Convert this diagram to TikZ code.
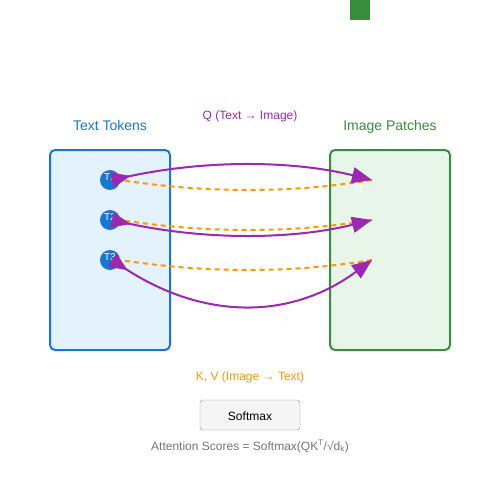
\documentclass[tikz,border=0pt]{standalone}
\usepackage{fontspec}
\setmainfont{Liberation Sans}
\usetikzlibrary{arrows.meta,calc}
\definecolor{tokblue}{HTML}{1976D2}
\definecolor{tokfill}{HTML}{E3F2FD}
\definecolor{patgreen}{HTML}{388E3C}
\definecolor{patfill}{HTML}{E8F5E9}
\definecolor{qpurple}{HTML}{9C27B0}
\definecolor{kvorange}{HTML}{FF9800}
\definecolor{smgray}{HTML}{757575}
\tikzset{
  token/.style={circle,fill=tokblue,minimum size=20pt,inner sep=0pt},
  toklabel/.style={anchor=base,text=white,font=\fontsize{10}{12}\selectfont},
  qarrow/.style={qpurple,line width=2pt,{Triangle[reversed,length=19pt,width=15pt]}-{Triangle[length=20pt,width=16pt]}},
  kvline/.style={kvorange,line width=2pt,dash pattern=on 5pt off 4pt},
  title/.style={anchor=base,font=\fontsize{14}{17}\selectfont},
  caption/.style={anchor=base,font=\fontsize{12}{14}\selectfont}
}
% quadratic curve from #2 over #3 to #4
\def\qcurve[#1](#2)(#3)(#4){\draw[#1] (#2) .. controls ($(#2)!0.6667!(#3)$) and ($(#4)!0.6667!(#3)$) .. (#4);}

\begin{document}
\begin{tikzpicture}[x=1pt,y=-1pt]
				%%%%% START %%%%%
				\def\lx{110}
				\def\rx{372}
				\def\mx{250}
				\useasboundingbox (0,0) rectangle (500,500);

				\fill[patgreen] (350,0) rectangle (370,20);

				\node[title,text=tokblue] (texttitle) at (110,130) {Text Tokens};
				\node[title,text=patgreen] (imagetitle) at (390,130) {Image Patches};
				\node[caption,text=qpurple] (qlabel) at (\mx,120) {Q (Text → Image)};

				\draw[tokblue,fill=tokfill,line width=2pt,rounded corners=5pt] (50,150) rectangle (170,350);
				\draw[patgreen,fill=patfill,line width=2pt,rounded corners=5pt] (330,150) rectangle (450,350);

				\node[token] (t1) at (\lx,180) {};
				\node[token] (t2) at (\lx,220) {};
				\node[token] (t3) at (\lx,260) {};
				\node[toklabel] at (\lx,180) {T1};
				\node[toklabel] at (\lx,220) {T2};
				\node[toklabel] at (\lx,260) {T3};

				\coordinate (p1) at (\rx,180);
				\coordinate (p2) at (\rx,220);
				\coordinate (p3) at (\rx,260);
				\node[toklabel] (i1) at (360,192) {I1};
				\node[toklabel] (i2) at (360,232) {I2};
				\node[toklabel] (i3) at (360,272) {I3};

				\coordinate (kv1) at (\mx,200);
				\coordinate (kv2) at (\mx,240);
				\coordinate (kv3) at (\mx,280);
				\qcurve[kvline](p1)(kv1)(t1.east);
				\qcurve[kvline](p2)(kv2)(t2.east);
				\qcurve[kvline](p3)(kv3)(t3.east);

				\coordinate (q1) at (\mx,150);
				\coordinate (q2) at (\mx,250);
				\coordinate (q3) at (\mx,350);
				\qcurve[qarrow]([xshift=2pt]t1.center)(q1)(p1);
				\qcurve[qarrow]([xshift=2pt]t2.center)(q2)(p2);
				\qcurve[qarrow]([xshift=2pt]t3.center)(q3)(p3);

				\node[caption,text=kvorange] (kvlabel) at (\mx,380) {K, V (Image → Text)};

				\draw[black!45,fill=black!4,rounded corners=3pt] (200,400) rectangle (300,430);
				\node[caption] (softmax) at (\mx,420) {Softmax};
				\node[caption,text=smgray] (scores) at (\mx,450) {Attention Scores = Softmax(QK\textsuperscript{T}/√d\textsubscript{k})};
				%%%%% START %%%%%
\end{tikzpicture}
\end{document}
